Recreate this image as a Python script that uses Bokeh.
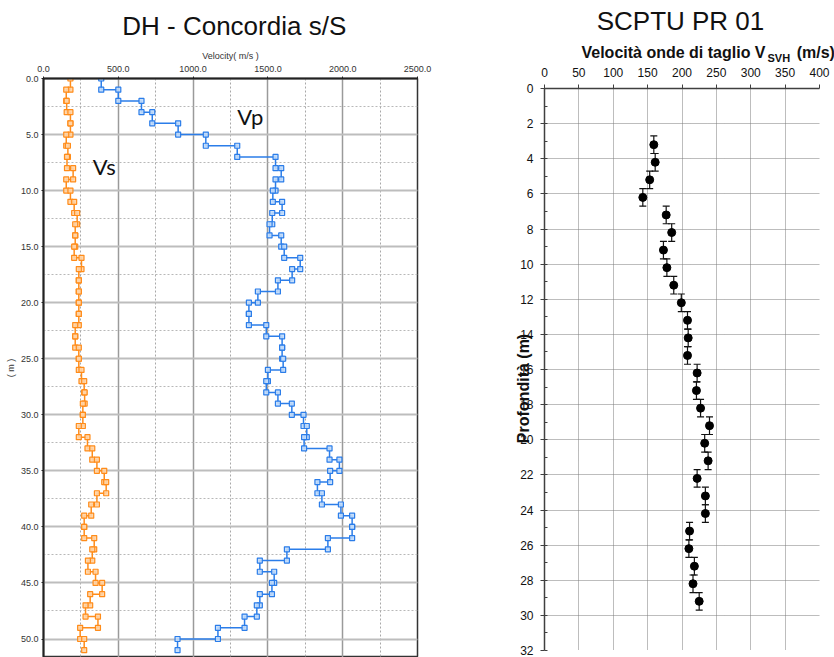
import math
from bokeh.plotting import figure
from bokeh.layouts import row, column
from bokeh.models import (Range1d, Label, Whisker, TeeHead, ColumnDataSource,
                          SingleIntervalTicker, NumeralTickFormatter)
from bokeh.embed import file_html
from bokeh.resources import INLINE

# ---------------- data: down-hole test (1 m layers, top depth in m) ----------------
layer_top = list(range(0, 51))
layer_thickness = 1.0
vp = [386, 500, 655, 727, 900, 1085, 1295, 1551, 1589, 1551,
      1533, 1595, 1529, 1511, 1589, 1609, 1716, 1662, 1567, 1433,
      1373, 1373, 1489, 1595, 1595, 1602, 1500, 1489, 1567, 1660,
      1738, 1760, 1742, 1912, 1978, 1916, 1831, 1861, 1988, 2063,
      2063, 1901, 1627, 1446, 1542, 1527, 1446, 1426, 1344, 1166,
      896]
vs = [180, 152, 155, 180, 180, 152, 163, 157, 198, 152,
      180, 205, 225, 212, 212, 205, 254, 236, 236, 236,
      236, 236, 212, 212, 236, 236, 254, 272, 275, 263,
      263, 236, 294, 326, 357, 406, 419, 357, 319, 272,
      272, 339, 326, 297, 348, 392, 312, 281, 364, 245,
      272]

# ---------------- data: SCPTU PR 01 ----------------
cptu_depth = [3.2, 4.2, 5.2, 6.2, 7.2, 8.2, 9.2, 10.2, 11.2, 12.2,
              13.2, 14.2, 15.2, 16.2, 17.2, 18.2, 19.2, 20.2, 21.2, 22.2,
              23.2, 24.2, 25.2, 26.2, 27.2, 28.2, 29.2]
cptu_vs = [159, 161, 153, 143, 177, 185, 173, 178, 188, 199,
           208, 209, 208, 222, 221, 227, 240, 233, 238, 222,
           234, 234, 211, 210, 218, 216, 225]
cptu_err = [0.5] * len(cptu_depth)

# ================= left chart =================
p1 = figure(width=470, height=657, x_range=Range1d(0, 2500), y_range=Range1d(51.65, 0),
            x_axis_location="above", output_backend="svg", toolbar_location=None,
            min_border_left=43, min_border_right=53, min_border_top=78, min_border_bottom=0)
p1.outline_line_color = "#333333"
p1.outline_line_width = 1.5

xa = p1.xaxis[0]
xa.ticker = SingleIntervalTicker(interval=500, num_minor_ticks=2)
xa.formatter = NumeralTickFormatter(format="0.0")
xa.axis_label = "Velocity( m/s )"
ya = p1.yaxis[0]
ya.ticker = SingleIntervalTicker(interval=5, num_minor_ticks=2)
ya.formatter = NumeralTickFormatter(format="0.0")
ya.axis_label = "( m )"
for ax in (xa, ya):
    ax.axis_line_color = "#222222"
    ax.axis_line_width = 2
    ax.major_tick_out = 2
    ax.major_tick_in = 0
    ax.minor_tick_out = 0
    ax.minor_tick_in = 0
    ax.major_tick_line_color = "#222222"
    ax.major_label_text_font = "Liberation Sans"
    ax.major_label_text_font_size = "9px"
    ax.major_label_text_color = "#333333"
    ax.axis_label_text_font = "Liberation Sans"
    ax.axis_label_text_font_size = "9px"
    ax.axis_label_text_font_style = "normal"
    ax.axis_label_text_color = "#333333"
xa.major_label_standoff = 5
xa.axis_label_standoff = 2
ya.major_label_standoff = 3
ya.axis_label_standoff = 2

p1.xgrid.grid_line_color = "#9a9a9a"
p1.xgrid.grid_line_width = 1.5
p1.xgrid.minor_grid_line_color = "#a8a8a8"
p1.xgrid.minor_grid_line_dash = "2 2"
p1.ygrid.grid_line_color = "#bdbdbd"
p1.ygrid.grid_line_width = 2
p1.ygrid.minor_grid_line_color = "#b8b8b8"
p1.ygrid.minor_grid_line_dash = "2 2"


def step_xy(vals):
    xs, ys = [], []
    for top, v in zip(layer_top, vals):
        xs += [v, v]
        ys += [top, top + layer_thickness]
    return xs, ys


for vals, lc, fc in ((vs, "#ff8c1a", "#ffd4a6"), (vp, "#2b7de9", "#c2dcfa")):
    xs, ys = step_xy(vals)
    p1.line(xs, ys, line_color=lc, line_width=1.5)
    p1.scatter(xs, ys, marker="square", size=5, line_color=lc, line_width=1.2,
               fill_color=fc, fill_alpha=0.9)

p1.add_layout(Label(x=1275, y=-4.7, text="DH - Concordia s/S", text_align="center",
                    text_baseline="middle", text_font="Liberation Sans",
                    text_font_size="26px", text_color="#111111"), "above")
p1.add_layout(Label(x=1295, y=3.42, text="Vp", text_align="left", text_baseline="middle",
                    text_font="Lato", text_font_size="22px", text_color="#111111"))
p1.add_layout(Label(x=330, y=7.88, text="Vs", text_align="left", text_baseline="middle",
                    text_font="Lato", text_font_size="22px", text_color="#111111"))

# ================= right chart =================
p2 = figure(width=364, height=657, x_range=Range1d(0, 400), y_range=Range1d(32, 0),
            x_axis_location="above", output_backend="svg", toolbar_location=None,
            min_border_left=74, min_border_right=15, min_border_top=88, min_border_bottom=7)
p2.outline_line_color = None

xb = p2.xaxis[0]
xb.ticker = SingleIntervalTicker(interval=50, num_minor_ticks=0)
yb = p2.yaxis[0]
yb.ticker = SingleIntervalTicker(interval=2, num_minor_ticks=2)
for ax in (xb, yb):
    ax.axis_line_color = "#404040"
    ax.axis_line_width = 1.5
    ax.major_tick_line_color = "#404040"
    ax.minor_tick_line_color = "#404040"
    ax.major_tick_out = 4
    ax.major_tick_in = 0
    ax.minor_tick_out = 0
    ax.minor_tick_in = 0
    ax.major_label_text_font = "Liberation Sans"
    ax.major_label_text_font_size = "12px"
    ax.major_label_text_color = "#111111"
xb.major_label_standoff = 8
yb.major_label_standoff = 7
yb.minor_tick_in = 3

for g in (p2.xgrid, p2.ygrid):
    g.grid_line_color = "#7a7a7a"
    g.grid_line_dash = "1 1"
    g.grid_line_width = 1

src = ColumnDataSource(dict(v=cptu_vs, d=cptu_depth,
                            lo=[d - e for d, e in zip(cptu_depth, cptu_err)],
                            hi=[d + e for d, e in zip(cptu_depth, cptu_err)]))
p2.add_layout(Whisker(source=src, base="v", lower="lo", upper="hi", dimension="height",
                      line_color="#111111", line_width=1.2,
                      lower_head=TeeHead(size=7, line_color="#111111", line_width=1.2),
                      upper_head=TeeHead(size=7, line_color="#111111", line_width=1.2)))
p2.scatter("v", "d", source=src, size=8, color="#000000")

NB = "\u00a0"
p2.add_layout(Label(x=197.8, y=-3.84, text="SCPTU PR 01", text_align="center",
                    text_baseline="middle", text_font="Liberation Sans",
                    text_font_size="26px", text_color="#111111"), "above")
p2.add_layout(Label(x=53.8, y=-2.03, text="Velocità onde di taglio V" + NB * 7 + "(m/s)",
                    text_align="left", text_baseline="middle", text_font="Liberation Sans",
                    text_font_size="16px", text_font_style="bold", text_color="#111111"), "above")
p2.add_layout(Label(x=324.4, y=-1.73, text="SVH", text_align="left",
                    text_baseline="middle", text_font="Liberation Sans",
                    text_font_size="11px", text_font_style="bold", text_color="#111111"), "left")
p2.add_layout(Label(x=-30.5, y=17.08, text="Profondità (m)", angle=math.pi / 2,
                    text_align="center", text_baseline="middle", text_font="Liberation Sans",
                    text_font_size="16px", text_font_style="bold", text_color="#111111"), "left")

layout = row(p1, column(p2))
open("out.html", "w").write(file_html(layout, INLINE))
